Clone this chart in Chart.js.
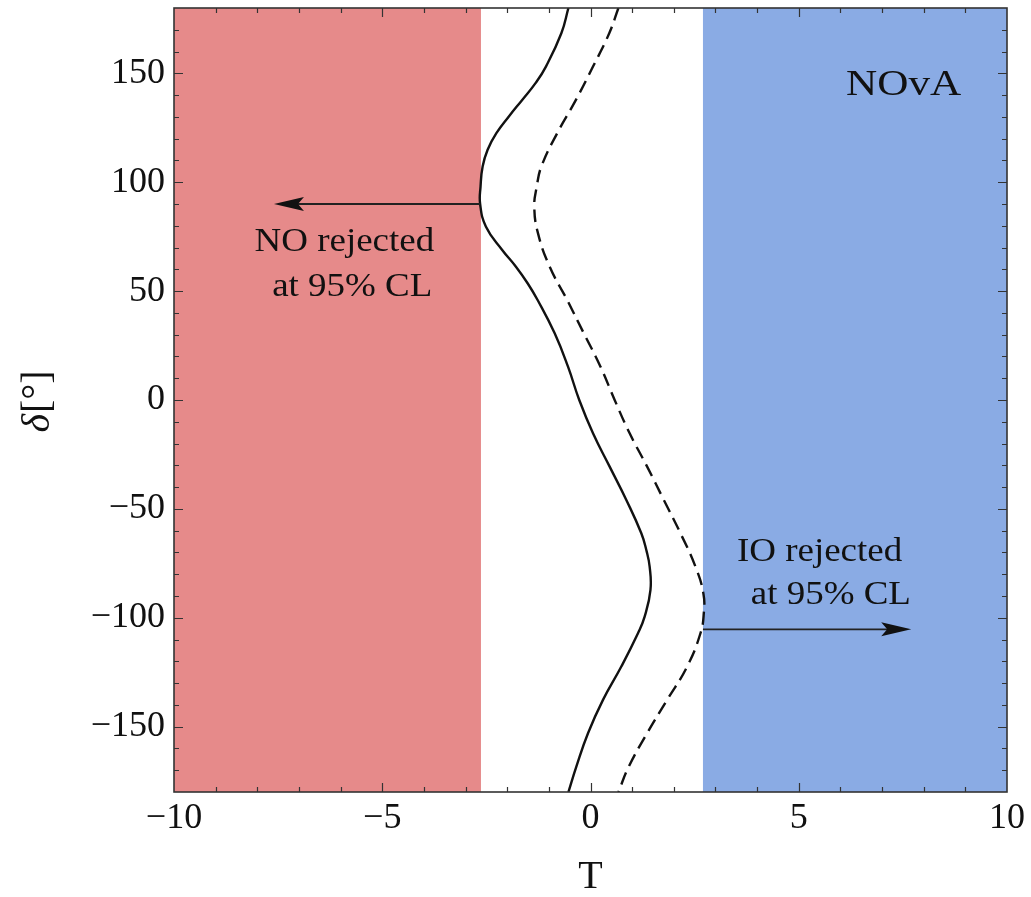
<!DOCTYPE html>
<html>
<head>
<meta charset="utf-8">
<title>NOvA: T versus delta</title>
<script src="https://cdn.jsdelivr.net/npm/chart.js@4.4.1/dist/chart.umd.min.js"></script>
<style>
  html,body{margin:0;padding:0;background:#fff;}
  canvas{display:block;}
</style>
</head>
<body>
<canvas id="chart" width="1031" height="897"></canvas>
<script>
// Axis ranges and labelled ticks
const X_RANGE = [-10, 10];
const Y_RANGE = [-180, 180];
const X_TICKS = [-10, -5, 0, 5, 10];
const Y_TICKS = [-150, -100, -50, 0, 50, 100, 150];

// Solid curve: T at each delta (deg)
const SOLID_DELTA = [180, 168.4, 153.1, 145.5, 137.8, 130.2, 122.5, 114.9, 107.2, 98, 90, 79.6, 68.9, 61.2, 53.6, 45.9, 30.6, 15.3, 0,
                     -15.3, -30.6, -45.9, -61.2, -68.9, -76.5, -87.2, -99.5, -107.1, -122.4, -137.7, -153, -168.3, -180];
const SOLID_T     = [-0.53, -0.70, -1.07, -1.32, -1.64, -1.96, -2.26, -2.47, -2.59, -2.64, -2.65, -2.51, -2.12, -1.79, -1.51, -1.27, -0.86, -0.54, -0.27,
                     0.06, 0.46, 0.86, 1.22, 1.34, 1.42, 1.44, 1.30, 1.14, 0.74, 0.30, -0.06, -0.34, -0.53];

// Dashed curve
const DASHED_DELTA = [180, 168.4, 153.1, 137.8, 122.5, 107.2, 98, 88.8, 76.5, 61.2, 45.9, 30.6, 15.3, 0,
                      -15.3, -30.6, -45.9, -61.2, -76.5, -88.8, -98, -107.1, -122.4, -137.7, -153, -168.3, -180];
const DASHED_T     = [0.67, 0.45, 0.06, -0.35, -0.80, -1.18, -1.29, -1.35, -1.26, -0.98, -0.56, -0.16, 0.24, 0.58,
                      0.94, 1.36, 1.76, 2.16, 2.52, 2.71, 2.72, 2.64, 2.32, 1.84, 1.36, 0.92, 0.67];

// Rejection bands (T)
const NO_EDGE = -2.63;
const IO_EDGE = 2.70;

// Arrows: from/to in T at a fixed delta
const NO_ARROW = { from: -2.65, to: -7.6, delta: 90 };
const IO_ARROW = { from: 2.70, to: 7.7, delta: -105.3 };

const RED = '#e68a8a';
const BLUE = '#8aabe4';
const INK = '#111';
const FONT = '"Liberation Serif", "Times New Roman", serif';

// text placed in data coordinates
const LABELS = [
  { text: 'NO rejected', t: -5.91, d: 72.5, size: 33, sx: 1.12 },
  { text: 'at 95% CL',   t: -5.72, d: 51.9, size: 33, sx: 1.12 },
  { text: 'IO rejected', t: 5.50,  d: -69.8, size: 33, sx: 1.12 },
  { text: 'at 95% CL',   t: 5.77,  d: -89.5, size: 33, sx: 1.12 },
  { text: 'NOvA',        t: 7.52,  d: 144.6, size: 36, sx: 1.2 }
];

const toPts = (ds, ts) => ds.map((d, i) => ({ x: ts[i], y: d }));
const fmt = v => v < 0 ? '\u2212' + Math.abs(v) : String(v);

function arrow(ctx, x0, y0, x1){
  const dir = Math.sign(x1 - x0);
  ctx.beginPath(); ctx.moveTo(x0, y0); ctx.lineTo(x1 - dir*22, y0); ctx.stroke();
  ctx.beginPath();
  ctx.moveTo(x1, y0);
  ctx.lineTo(x1 - dir*30, y0 - 7);
  ctx.lineTo(x1 - dir*24, y0);
  ctx.lineTo(x1 - dir*30, y0 + 7);
  ctx.closePath(); ctx.fill();
}

function wideText(ctx, text, cx, cy, size, sx){
  ctx.save();
  ctx.translate(cx, cy);
  ctx.scale(sx, 1);
  ctx.font = `${size}px ${FONT}`;
  ctx.textAlign = 'center'; ctx.textBaseline = 'middle';
  ctx.fillText(text, 0, 0);
  ctx.restore();
}

const decor = {
  id: 'decor',
  beforeDatasetsDraw(chart){
    const { ctx, chartArea: a, scales: { x } } = chart;
    ctx.save();
    const rx = x.getPixelForValue(NO_EDGE);
    ctx.fillStyle = RED;
    ctx.fillRect(a.left, a.top, rx - a.left, a.bottom - a.top);
    const bx = x.getPixelForValue(IO_EDGE);
    ctx.fillStyle = BLUE;
    ctx.fillRect(bx, a.top, a.right - bx, a.bottom - a.top);
    ctx.restore();
  },
  afterDatasetsDraw(chart){
    const { ctx, chartArea: a, scales: { x, y } } = chart;
    ctx.save();

    // arrows
    ctx.strokeStyle = '#222'; ctx.fillStyle = '#111'; ctx.lineWidth = 1.8;
    for (const ar of [NO_ARROW, IO_ARROW]) {
      arrow(ctx, x.getPixelForValue(ar.from), y.getPixelForValue(ar.delta), x.getPixelForValue(ar.to));
    }

    // labels
    ctx.fillStyle = INK;
    for (const l of LABELS) wideText(ctx, l.text, x.getPixelForValue(l.t), y.getPixelForValue(l.d), l.size, l.sx);

    // inward ticks on all four sides
    ctx.strokeStyle = '#333'; ctx.lineWidth = 1.2;
    ctx.beginPath();
    for (let v = X_RANGE[0] + 1; v < X_RANGE[1]; v++) {
      const px = Math.round(x.getPixelForValue(v)) + 0.5;
      const len = X_TICKS.includes(v) ? 9 : 5;
      ctx.moveTo(px, a.bottom); ctx.lineTo(px, a.bottom - len);
      ctx.moveTo(px, a.top); ctx.lineTo(px, a.top + len);
    }
    for (let v = Y_RANGE[0] + 10; v < Y_RANGE[1]; v += 10) {
      const py = Math.round(y.getPixelForValue(v)) + 0.5;
      const len = Y_TICKS.includes(v) ? 9 : 5;
      ctx.moveTo(a.left, py); ctx.lineTo(a.left + len, py);
      ctx.moveTo(a.right, py); ctx.lineTo(a.right - len, py);
    }
    ctx.stroke();

    // frame
    ctx.strokeStyle = '#333'; ctx.lineWidth = 1.6;
    ctx.strokeRect(a.left, a.top, a.right - a.left, a.bottom - a.top);

    // y title: italic delta + [°]
    ctx.translate(y.left + 38, (a.top + a.bottom) / 2 + 2);
    ctx.rotate(-Math.PI / 2);
    ctx.fillStyle = INK; ctx.textBaseline = 'middle'; ctx.textAlign = 'left';
    const fi = `italic 40px ${FONT}`, fr = `40px ${FONT}`;
    ctx.font = fi; const w1 = ctx.measureText('\u03b4').width;
    ctx.font = fr; const w2 = ctx.measureText('[\u00b0]').width;
    const sx = -(w1 + w2) / 2;
    ctx.font = fi; ctx.fillText('\u03b4', sx, 0);
    ctx.font = fr; ctx.fillText('[\u00b0]', sx + w1 + 1, 0);
    ctx.restore();
  }
};

// line type (not scatter) so the bezier tension is actually applied
const curve = { borderColor: INK, borderWidth: 2.4, pointRadius: 0, tension: 0.45, fill: false };

new Chart(document.getElementById('chart'), {
  type: 'line',
  data: {
    datasets: [
      { ...curve, data: toPts(SOLID_DELTA, SOLID_T) },
      { ...curve, data: toPts(DASHED_DELTA, DASHED_T), borderDash: [13, 7] }
    ]
  },
  options: {
    responsive: false,
    animation: false,
    devicePixelRatio: 1,
    layout: { padding: { top: 8, right: 24, left: 0, bottom: 0 } },
    plugins: { legend: { display: false }, tooltip: { enabled: false } },
    scales: {
      x: {
        type: 'linear', min: X_RANGE[0], max: X_RANGE[1],
        afterBuildTicks: s => { s.ticks = X_TICKS.map(v => ({ value: v })); },
        afterFit: s => { s.height = 105; s.paddingLeft = 0; s.paddingRight = 0; },
        grid: { display: false, drawTicks: false },
        border: { display: false },
        ticks: { font: { family: FONT, size: 36 }, color: INK, padding: 5, maxRotation: 0, autoSkip: false, callback: v => fmt(v) },
        title: { display: true, text: 'T', color: INK, font: { family: FONT, size: 40, lineHeight: 1 }, padding: { top: 0, bottom: 0 } }
      },
      y: {
        type: 'linear', min: Y_RANGE[0], max: Y_RANGE[1],
        afterBuildTicks: s => { s.ticks = Y_TICKS.map(v => ({ value: v })); },
        afterFit: s => { s.width = 174; s.paddingTop = 0; s.paddingBottom = 0; },
        grid: { display: false, drawTicks: false },
        border: { display: false },
        ticks: { font: { family: FONT, size: 36 }, color: INK, padding: 9, autoSkip: false, callback: v => fmt(v) }
      }
    }
  },
  plugins: [decor]
});
</script>
</body>
</html>
